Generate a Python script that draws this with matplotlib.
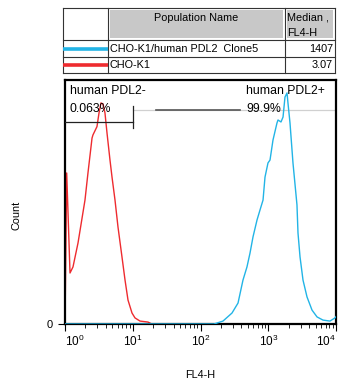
import numpy as np
import matplotlib
matplotlib.use("Agg")
import matplotlib.pyplot as plt
from matplotlib.patches import Rectangle
from matplotlib.ticker import LogLocator, NullFormatter, FixedLocator

plt.rcParams['font.family'] = ['Liberation Sans', 'DejaVu Sans']
plt.rcParams['mathtext.fontset'] = 'custom'
plt.rcParams['mathtext.rm'] = 'Liberation Sans'
plt.rcParams['mathtext.it'] = 'Liberation Sans'

# ---- data (log10 of FL4-H, count in % of axis height) ----
red_log = [0.0, 0.025, 0.074, 0.118, 0.192, 0.295, 0.339, 0.399, 0.413, 0.472, 0.502,
           0.531, 0.561, 0.590, 0.620, 0.664, 0.694, 0.738, 0.782, 0.841, 0.886, 0.930,
           0.989, 1.033, 1.107, 1.225, 1.28, 4.0]
red_cnt = [0.0, 61.9, 20.9, 23.4, 33.2, 50.8, 61.9, 76.2, 77.5, 80.9, 86.5,
           90.6, 90.2, 86.5, 78.3, 67.2, 60.2, 50.8, 39.8, 27.5, 18.0, 9.8,
           4.5, 2.5, 1.2, 0.8, 0.0, 0.0]
blue_log = [0.0, 2.20, 2.244, 2.332, 2.465, 2.554, 2.627, 2.686, 2.731, 2.775, 2.834,
            2.878, 2.923, 2.952, 2.996, 3.026, 3.070, 3.129, 3.144, 3.188, 3.218,
            3.247, 3.277, 3.291, 3.321, 3.365, 3.424, 3.439, 3.469, 3.513, 3.572,
            3.646, 3.720, 3.808, 3.911, 3.985, 4.0]
blue_cnt = [0.0, 0.0, 0.4, 1.2, 4.5, 8.6, 18.0, 23.4, 29.1, 35.7, 42.6,
            46.7, 50.8, 60.2, 66.0, 67.2, 75.4, 82.4, 83.6, 82.8, 84.8,
            93.0, 94.7, 90.6, 82.4, 66.0, 48.8, 37.3, 27.5, 18.0, 11.1,
            5.7, 2.9, 1.6, 1.2, 2.5, 3.0]

populations = ["CHO-K1/human PDL2  Clone5", "CHO-K1"]
medians = ["1407", "3.07"]
colors = ["#22b4e6", "#ee2b2f"]
gate_neg = ("human PDL2-", "0.063%")
gate_pos = ("human PDL2+", "99.9%")
xtick_exps = [0, 1, 2, 3, 4]

W, H = 350, 384
fig = plt.figure(figsize=(W / 100, H / 100), dpi=100)

# overlay axes in pixel coords for table
tax = fig.add_axes([0, 0, 1, 1])
tax.set_xlim(0, W)
tax.set_ylim(H, 0)
tax.axis('off')

# table geometry
x0, x1, x2, x3 = 63, 108, 285, 335
y0, y1, y2, y3 = 8, 40, 57, 73
grey = "#c8c8c8"
tax.add_patch(Rectangle((x1 + 2, y0 + 2), x2 - x1 - 4, y1 - y0 - 4, fc=grey, ec='none'))
tax.add_patch(Rectangle((x2 + 2, y0 + 2), x3 - x2 - 4, y1 - y0 - 4, fc=grey, ec='none'))
lc = "#333333"
for yy in (y0, y1, y2, y3):
    tax.plot([x0, x3], [yy, yy], color=lc, lw=0.8)
for xx in (x0, x1, x2, x3):
    tax.plot([xx, xx], [y0, y3], color=lc, lw=0.8)
tax.text((x1 + x2) / 2, 18, "Population Name", ha='center', va='center', fontsize=7.8)
tax.text(x2 + 2, 18, "Median ,", ha='left', va='center', fontsize=7.8)
tax.text(x2 + 2, 33, "FL4-H", ha='left', va='center', fontsize=7.8)
rows_y = [(y1 + y2) / 2, (y2 + y3) / 2]
for name, med, c, ry in zip(populations, medians, colors, rows_y):
    tax.plot([x0, x1], [ry, ry], color=c, lw=2.6, solid_capstyle='butt')
    tax.text(x1 + 2, ry, name, ha='left', va='center', fontsize=7.8)
    tax.text(x3 - 2, ry, med, ha='right', va='center', fontsize=7.8)

# main axes
ax = fig.add_axes([65 / W, 60 / H, 271 / W, 244 / H])
ax.set_xscale('log')
ax.set_xlim(1, 1e4)
ax.set_ylim(0, 100)

rx = 10 ** np.array(red_log)
bx = 10 ** np.array(blue_log)
ax.plot(rx, red_cnt, color=colors[1], lw=1.0, zorder=2)
ax.plot(bx, blue_cnt, color=colors[0], lw=1.0, zorder=3)

for s in ax.spines.values():
    s.set_linewidth(1.6)
    s.set_color('black')

ax.xaxis.set_major_locator(FixedLocator([10.0 ** e for e in xtick_exps]))
ax.xaxis.set_minor_locator(LogLocator(base=10, subs=np.arange(2, 10), numticks=20))
ax.xaxis.set_minor_formatter(NullFormatter())
ax.set_xticklabels([r"$10^{%d}$" % e for e in xtick_exps], fontsize=8.5)
for lbl, ha in zip(ax.get_xticklabels(), ['left', 'center', 'center', 'center', 'right']):
    lbl.set_ha(ha)
ax.tick_params(axis='x', which='major', direction='out', length=5, width=0.8, pad=2)
ax.tick_params(axis='x', which='minor', direction='out', length=3, width=0.6)
ax.set_yticks([0])
ax.set_yticklabels(["0"], fontsize=8)
ax.tick_params(axis='y', direction='out', length=5, width=0.8, pad=4)

# gates
ax.plot([1, 10], [82.8, 82.8], color='#222222', lw=0.9, zorder=4)
ax.plot([10, 10], [80.5, 89.5], color='#222222', lw=0.9, zorder=4)
ax.plot([10, 1e4], [87.7, 87.7], color='#d0d0d0', lw=0.9, zorder=1)
ax.plot([10 ** 1.34, 10 ** 2.58], [87.7, 87.7], color='#555555', lw=1.2, zorder=4)
ax.text(10 ** 0.07, 95.5, gate_neg[0], fontsize=8.8, ha='left', va='center', zorder=5)
ax.text(10 ** 0.07, 88.0, gate_neg[1], fontsize=8.8, ha='left', va='center', zorder=5)
ax.text(10 ** 2.67, 95.5, gate_pos[0], fontsize=8.8, ha='left', va='center', zorder=5)
ax.text(10 ** 2.67, 88.0, gate_pos[1], fontsize=8.8, ha='left', va='center', zorder=5)

fig.text(16 / W, 1 - 215 / H, "Count", rotation=90, ha='center', va='center', fontsize=7.8)
fig.text(200 / W, 1 - 375 / H, "FL4-H", ha='center', va='center', fontsize=7.8)

fig.savefig("out.png", dpi=100)
